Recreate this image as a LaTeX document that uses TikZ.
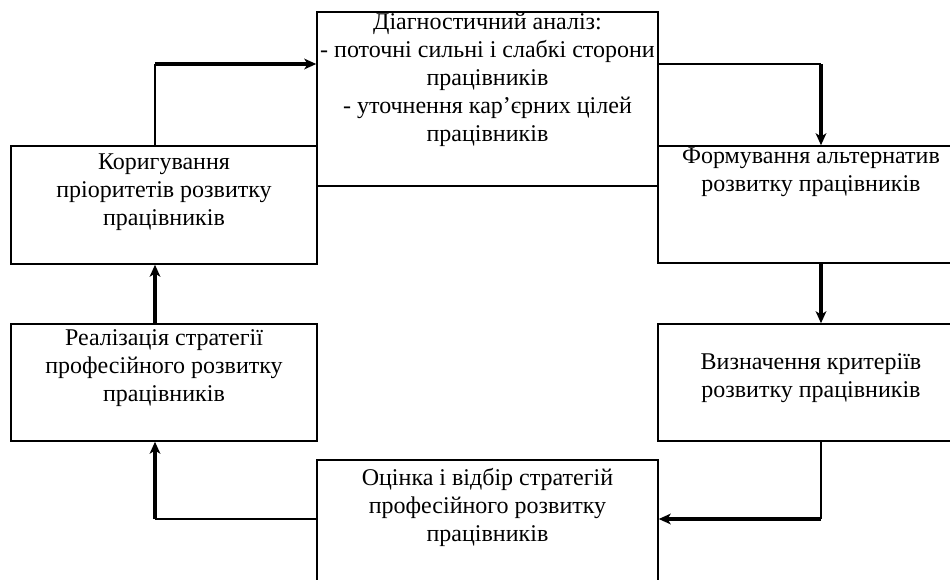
\documentclass[tikz,border=0pt]{standalone}
\usepackage{fontspec}
\setmainfont{Liberation Serif}
\usetikzlibrary{arrows.meta,positioning}
\tikzset{
  blok/.style={draw,line width=1.1pt,inner sep=0pt},
  napys/.style={align=center,inner sep=0pt,font=\fontsize{18}{21}\selectfont},
  tonka/.style={line width=1.1pt},
  nyil/.style={line width=2.3pt,-{Stealth[length=9pt,width=8pt,inset=2.5pt]}},
}

\begin{document}
\begin{tikzpicture}[x=0.75pt,y=-0.75pt]
  \useasboundingbox (0,0) rectangle (950,579);
  \clip (0,0) rectangle (950,579);
  % bloky
  \node[blok,minimum width=255.75pt,minimum height=130.5pt] (diag) at (487.5,99) {};
  \node[blok,minimum width=229.5pt,minimum height=88.5pt] (korig) at (164,205) {};
  \node[blok,minimum width=229.5pt,minimum height=87.75pt] (form) at (811,204.5) {};
  \node[blok,minimum width=229.5pt,minimum height=87.75pt] (real) at (164,382.5) {};
  \node[blok,minimum width=229.5pt,minimum height=87.75pt] (vyzn) at (811,382.5) {};
  \node[blok,minimum width=255.75pt,minimum height=150pt] (ocin) at (487.5,560) {};
  % napysy
  \node[napys,below=1.5pt of diag.north] (tdiag) {Діагностичний аналіз:\\- поточні сильні і слабкі сторони\\працівників\\- уточнення кар’єрних цілей\\працівників};
  \node[napys,below=6.5pt of korig.north] (tkorig) {Коригування\\пріоритетів розвитку\\працівників};
  \node[napys,below=2pt of form.north] (tform) {Формування альтернатив\\розвитку працівників};
  \node[napys,below=4.5pt of real.north] (treal) {Реалізація стратегії\\професійного розвитку\\працівників};
  \node[napys,yshift=3pt] (tvyzn) at (vyzn) {Визначення критеріїв\\розвитку працівників};
  \node[napys,below=6.5pt of ocin.north] (tocin) {Оцінка і відбір стратегій\\професійного розвитку\\працівників};
  % zvjazky
  \coordinate (k1) at (155,64);
  \coordinate (k2) at (821,64);
  \coordinate (k3) at (821,519);
  \coordinate (k4) at (155,519);
  \draw[tonka] (k1 |- korig.north) -- (k1);
  \draw[nyil] (k1) -- (k1 -| diag.west);
  \draw[tonka] (k2 -| diag.east) -- (k2);
  \draw[nyil] (k2) -- (k2 |- form.north);
  \draw[nyil] (k2 |- form.south) -- (k2 |- vyzn.north);
  \draw[tonka] (k3 |- vyzn.south) -- (k3);
  \draw[nyil] (k3) -- (k3 -| ocin.east);
  \draw[tonka] (k4 -| ocin.west) -- (k4);
  \draw[nyil] (k4) -- (k4 |- real.south);
  \draw[nyil] (k4 |- real.north) -- (k4 |- korig.south);
\end{tikzpicture}
\end{document}
